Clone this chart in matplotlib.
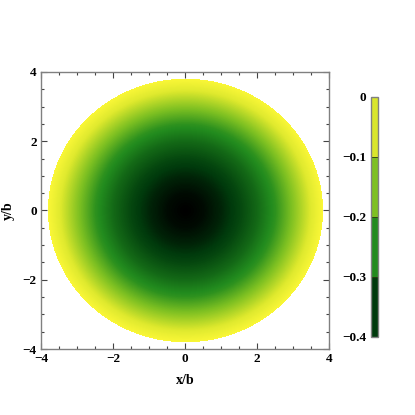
import numpy as np
import matplotlib
matplotlib.use("Agg")
import matplotlib.pyplot as plt
import matplotlib.tri as mtri
from matplotlib.colors import LinearSegmentedColormap, ListedColormap, BoundaryNorm
from matplotlib.ticker import MultipleLocator

# radial profile (value vs r/b), field is rotationally symmetric
radius = [0.0, 0.5, 1.0, 1.5, 2.0, 2.5, 3.0, 3.5, 3.82]
value = [-0.400, -0.390, -0.368, -0.335, -0.292, -0.237, -0.140, -0.037, 0.0]

bar_bounds = [-0.4, -0.3, -0.2, -0.1, 0.0]
bar_labels = ["\u22120.4", "\u22120.3", "\u22120.2", "\u22120.1", "0"]
axis_ticks = [-4, -2, 0, 2, 4]

# avocado-like palette: black -> dark green -> green -> yellow
avocado = LinearSegmentedColormap.from_list("avocado", [
    (0.0, (0 / 255, 0 / 255, 0 / 255)),
    (0.125, (0 / 255, 58 / 255, 12 / 255)),
    (0.375, (34 / 255, 139 / 255, 30 / 255)),
    (0.625, (125 / 255, 192 / 255, 34 / 255)),
    (0.875, (216 / 255, 230 / 255, 44 / 255)),
    (1.0, (250 / 255, 247 / 255, 55 / 255)),
])

plt.rcParams['font.family'] = ['Liberation Serif', 'DejaVu Serif']
plt.rcParams['font.weight'] = 'bold'

# polar mesh: a centre point plus rings at each sampled radius
n_ang = 180
ang = np.linspace(0, 2 * np.pi, n_ang, endpoint=False)
xs, ys, zs = [0.0], [0.0], [value[0]]
for r, v in zip(radius[1:], value[1:]):
    xs.extend(r * np.cos(ang))
    ys.extend(r * np.sin(ang))
    zs.extend([v] * n_ang)
tri = mtri.Triangulation(np.array(xs), np.array(ys))
interp = mtri.LinearTriInterpolator(tri, np.array(zs))

# sample the triangulated field on the pixel grid of the frame
gx, gy = np.meshgrid(np.linspace(-4, 4, 289), np.linspace(-4, 4, 277))
field = interp(gx, gy)

fig = plt.figure(figsize=(4.15, 4.15), dpi=100)
ax = fig.add_axes([41 / 415, 66 / 415, 288 / 415, 277 / 415])
ax.imshow(field, origin='lower', extent=(-4, 4, -4, 4), aspect='auto',
          cmap=avocado, vmin=bar_bounds[0], vmax=bar_bounds[-1],
          interpolation='nearest')

ax.set_xlim(-4, 4)
ax.set_ylim(-4, 4)
ax.set_xticks(axis_ticks)
ax.set_yticks(axis_ticks)
ax.xaxis.set_minor_locator(MultipleLocator(0.5))
ax.yaxis.set_minor_locator(MultipleLocator(0.5))
ax.tick_params(which='both', direction='in', top=True, right=True,
               labeltop=False, labelright=False, color='#444444', width=0.8)
ax.tick_params(which='major', length=4, labelsize=9.5, pad=3)
ax.tick_params(which='minor', length=2)
for s in ax.spines.values():
    s.set_color('#808080')
    s.set_linewidth(1.0)

ax.set_xlabel("x/b", fontsize=10, fontweight='bold', labelpad=6)
ax.set_ylabel("y/b", fontsize=10, fontweight='bold', labelpad=6)

# discrete legend bar
cax = fig.add_axes([370.7 / 415, (415 - 336.7) / 415, 7.6 / 415, 240 / 415])
band_cols = ListedColormap(avocado(np.linspace(0.125, 0.875, 4)))
norm = BoundaryNorm(bar_bounds, band_cols.N)
sm = plt.cm.ScalarMappable(norm=norm, cmap=band_cols)
cb = fig.colorbar(sm, cax=cax, ticks=bar_bounds, drawedges=True)
cb.ax.yaxis.set_ticks_position('left')
cb.ax.set_yticklabels(bar_labels)
cb.ax.tick_params(length=0, labelsize=9.5, pad=3)
cb.outline.set_edgecolor('#808080')
cb.outline.set_linewidth(1.0)
cb.dividers.set_color('#2a3a10')
cb.dividers.set_linewidth(0.6)

fig.savefig("out.png", dpi=100)
